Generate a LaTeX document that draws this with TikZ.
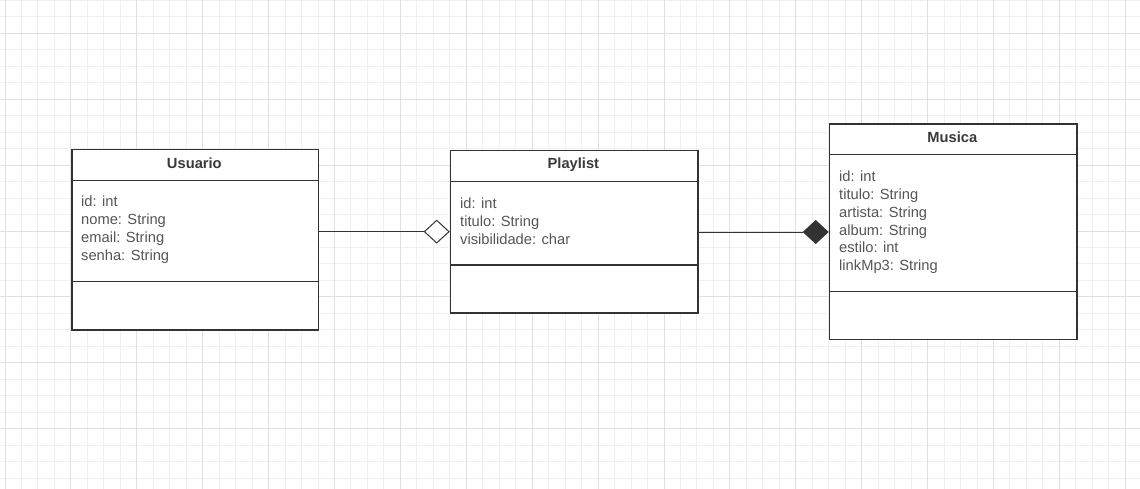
\documentclass[tikz,border=0pt]{standalone}
\usepackage{fontspec}
\setmainfont{Liberation Sans}
\usetikzlibrary{arrows.meta,calc}
\definecolor{gridminor}{HTML}{F0F0F0}
\definecolor{gridmajor}{HTML}{E0E0E0}
\definecolor{boxline}{HTML}{333333}
\definecolor{attrtext}{HTML}{555555}
\definecolor{titletext}{HTML}{3A3A3A}
\tikzset{
  comp/.style={draw=boxline, line width=1.5pt, fill=white, anchor=north west, inner sep=0pt, minimum width=#1},
  titletxt/.style={anchor=base, inner sep=0pt, text=titletext, font=\fontsize{14.7}{17.9}\selectfont\bfseries},
  attr/.style={anchor=base west, inner sep=0pt, text=attrtext, font=\fontsize{14.7}{17.9}\selectfont},
  assoc/.style={draw=boxline, line width=1pt},
}
\begin{document}
\begin{tikzpicture}[x=1pt,y=-1pt]
\useasboundingbox (0,0) rectangle (1140,489);
\fill[white] (0,0) rectangle (1140,489);
% grid
\foreach \i in {0,...,69} {
  \pgfmathsetmacro{\gx}{5+16.475*\i}
  \draw[gridminor, line width=1pt] (\gx,0) -- (\gx,489);
}
\foreach \i in {0,...,30} {
  \pgfmathsetmacro{\gy}{0.35+16.475*\i}
  \draw[gridminor, line width=1pt] (0,\gy) -- (1140,\gy);
}
\foreach \i in {0,...,17} {
  \pgfmathsetmacro{\gx}{5+65.9*\i}
  \draw[gridmajor, line width=1pt] (\gx,0) -- (\gx,489);
}
\foreach \i in {0,...,7} {
  \pgfmathsetmacro{\gy}{33.3+65.9*\i}
  \draw[gridmajor, line width=1pt] (0,\gy) -- (1140,\gy);
}
% Usuario
\node[comp=246.7pt, minimum height=30.7pt] (uhead) at (71,149) {};
\node[comp=246.7pt, minimum height=101pt] (uattr) at (71,179.7) {};
\node[comp=246.7pt, minimum height=48.3pt] (umeth) at (71,280.7) {};
\node[titletxt] (utitle) at (194.35,168.3) {Usuario};
\node[attr] (ua1) at (81,206.7) {id: int};
\node[attr] (ua2) at (81,224.6) {nome: String};
\node[attr] (ua3) at (81,242.5) {email: String};
\node[attr] (ua4) at (81,260.4) {senha: String};
% Playlist
\node[comp=247.3pt, minimum height=31pt] (phead) at (449.7,150) {};
\node[comp=247.3pt, minimum height=83.3pt] (pattr) at (449.7,181) {};
\node[comp=247.3pt, minimum height=48pt] (pmeth) at (449.7,264.3) {};
\node[titletxt] (ptitle) at (573.35,169) {Playlist};
\node[attr] (pa1) at (460,208.3) {id: int};
\node[attr] (pa2) at (460,226.2) {titulo: String};
\node[attr] (pa3) at (460,244.1) {visibilidade: char};
% Musica
\node[comp=247.3pt, minimum height=30.7pt] (mhead) at (828.7,123.3) {};
\node[comp=247.3pt, minimum height=136.7pt] (mattr) at (828.7,154) {};
\node[comp=247.3pt, minimum height=48pt] (mmeth) at (828.7,290.7) {};
\node[titletxt] (mtitle) at (952.35,142.5) {Musica};
\node[attr] (ma1) at (839,181.7) {id: int};
\node[attr] (ma2) at (839,199.5) {titulo: String};
\node[attr] (ma3) at (839,217.3) {artista: String};
\node[attr] (ma4) at (839,235.1) {album: String};
\node[attr] (ma5) at (839,252.9) {estilo: int};
\node[attr] (ma6) at (839,270.7) {linkMp3: String};
% connectors
\draw[assoc, -{Diamond[fill=white, length=26pt, width=24pt]}]
  ([yshift=-0.7pt]uattr.east) -- ([yshift=-0.7pt]uattr.east -| pattr.west);
\draw[assoc, -{Diamond[fill=boxline, length=26pt, width=24pt]}]
  ([yshift=-8.6pt]pattr.east) -- ([yshift=-8.6pt]pattr.east -| mattr.west);
\end{tikzpicture}
\end{document}
